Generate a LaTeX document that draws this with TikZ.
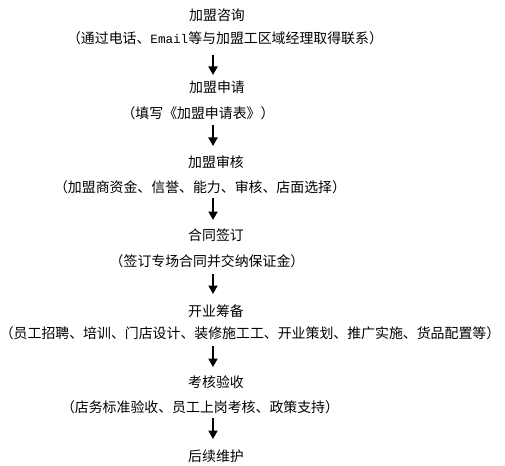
\documentclass[tikz,border=0pt]{standalone}
\usepackage{fontspec}
\setmainfont{Noto Sans CJK SC}
\newfontfamily\latinmono{Liberation Mono}
\usetikzlibrary{arrows.meta}
\begin{document}
\begin{tikzpicture}[x=1pt,y=-1pt,
  lbl/.style={inner sep=0pt, font=\fontsize{13.9}{15}\selectfont},
  arr/.style={line width=1.9pt, -{Triangle[length=8.5pt,width=9pt]}}]
\useasboundingbox[fill=white] (0,0) rectangle (505,465);
% heads and descriptions
\node[lbl] (h1) at (217,15)  {加盟咨询};
\node[lbl] (d1) at (225,38)  {（通过电话、{\latinmono\fontsize{12.6}{15}\selectfont Email}等与加盟工区域经理取得联系）};
\node[lbl] (h2) at (217,87)  {加盟申请};
\node[lbl] (d2) at (198,113) {（填写《加盟申请表》）};
\node[lbl] (h3) at (216,162) {加盟审核};
\node[lbl] (d3) at (200,187) {（加盟商资金、信誉、能力、审核、店面选择）};
\node[lbl] (h4) at (216,235) {合同签订};
\node[lbl] (d4) at (207,261) {（签订专场合同并交纳保证金）};
\node[lbl] (h5) at (216,311) {开业筹备};
\node[lbl] (d5) at (250,333) {（员工招聘、培训、门店设计、装修施工工、开业策划、推广实施、货品配置等）};
\node[lbl] (h6) at (216,382) {考核验收};
\node[lbl] (d6) at (200,407) {（店务标准验收、员工上岗考核、政策支持）};
\node[lbl] (h7) at (216,456) {后续维护};
% arrow end points
\coordinate (a1s) at (213,55);  \coordinate (a1e) at (213,75);
\coordinate (a2s) at (213,125); \coordinate (a2e) at (213,146);
\coordinate (a3s) at (213,198); \coordinate (a3e) at (213,220);
\coordinate (a4s) at (213,274); \coordinate (a4e) at (213,294);
\coordinate (a5s) at (213,346); \coordinate (a5e) at (213,367);
\coordinate (a6s) at (213,418); \coordinate (a6e) at (213,439);
\draw[arr] (a1s) -- (a1e);
\draw[arr] (a2s) -- (a2e);
\draw[arr] (a3s) -- (a3e);
\draw[arr] (a4s) -- (a4e);
\draw[arr] (a5s) -- (a5e);
\draw[arr] (a6s) -- (a6e);
\end{tikzpicture}
\end{document}
